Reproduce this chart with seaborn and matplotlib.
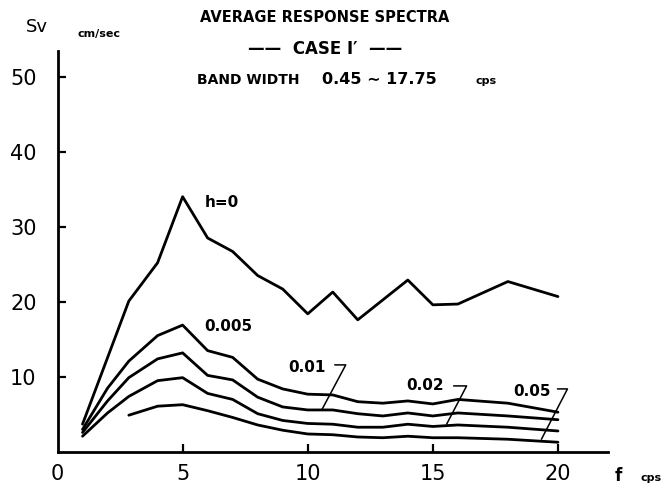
import numpy as np
import pandas as pd
import matplotlib
matplotlib.use("Agg")
import matplotlib.pyplot as plt
import seaborn as sns

# DATA
f_h0 = [1, 2.85, 4, 5, 6, 7, 8, 9, 10, 11, 12, 14, 15, 16, 18, 20]
sv_h0 = [3.7, 20.1, 25.2, 34.0, 28.5, 26.7, 23.5, 21.7, 18.4, 21.3, 17.6, 22.9, 19.6, 19.7, 22.7, 20.7]

f_low = [1, 2, 2.85, 4, 5, 6, 7, 8, 9, 10, 11, 12, 13, 14, 15, 16, 18, 20]
sv_h005 = [3.0, 8.5, 12.1, 15.5, 16.9, 13.5, 12.6, 9.7, 8.4, 7.7, 7.6, 6.7, 6.5, 6.8, 6.4, 7.0, 6.5, 5.3]
sv_h01 = [2.6, 6.8, 9.9, 12.4, 13.2, 10.2, 9.6, 7.3, 6.0, 5.6, 5.6, 5.1, 4.8, 5.2, 4.8, 5.2, 4.8, 4.3]
sv_h02 = [2.1, 5.2, 7.4, 9.5, 9.9, 7.8, 7.0, 5.1, 4.2, 3.8, 3.7, 3.3, 3.3, 3.7, 3.4, 3.6, 3.3, 2.8]

f_h05 = [2.85, 4, 5, 6, 7, 8, 9, 10, 11, 12, 13, 14, 15, 16, 18, 20]
sv_h05 = [4.9, 6.1, 6.3, 5.5, 4.6, 3.6, 2.9, 2.4, 2.3, 2.0, 1.9, 2.1, 1.9, 1.9, 1.7, 1.3]

curves = [("0", f_h0, sv_h0), ("0.005", f_low, sv_h005), ("0.01", f_low, sv_h01),
          ("0.02", f_low, sv_h02), ("0.05", f_h05, sv_h05)]
df = pd.concat([pd.DataFrame({"f": fx, "Sv": sv, "h": name}) for name, fx, sv in curves],
               ignore_index=True)

sns.set_style("white", {"xtick.bottom": True, "ytick.left": True,
                        "text.color": "black", "axes.labelcolor": "black",
                        "xtick.color": "black", "ytick.color": "black"})
plt.rcParams['font.family'] = ['DejaVu Sans']

W, H = 667, 491
fig = plt.figure(figsize=(W / 100, H / 100), dpi=100)
ax = fig.add_axes([57.5 / W, 1 - 452 / H, (608 - 57.5) / W, (452 - 51) / H])

sns.lineplot(data=df, x="f", y="Sv", hue="h", units="h", estimator=None, sort=False,
             palette={name: "black" for name, _, _ in curves}, linewidth=2.0,
             legend=False, ax=ax)

ax.set_xlim(0, 22)
ax.set_ylim(0, 53.4)
ax.set_xticks([0, 5, 10, 15, 20])
ax.set_xticklabels(["0", "5", "10", "15", "20"])
ax.set_yticks([10, 20, 30, 40, 50])
ax.tick_params(direction="in", length=6, width=1.6, labelsize=15, colors="black")
ax.tick_params(axis="y", pad=15)
ax.tick_params(axis="x", pad=9)
ax.xaxis.get_major_ticks()[0].tick1line.set_visible(False)
for s in ["top", "right"]:
    ax.spines[s].set_visible(False)
for s in ["left", "bottom"]:
    ax.spines[s].set_linewidth(2.0)
    ax.spines[s].set_color("black")
ax.set_xlabel("")
ax.set_ylabel("")

# curve labels and leaders
lab = dict(fontsize=11, fontweight="bold", ha="center", va="center", color="black")
ax.text(6.57, 33.2, "h=0", **lab)
ax.text(6.81, 16.7, "0.005", **lab)
ax.text(9.96, 11.2, "0.01", **lab)
ax.text(14.67, 8.8, "0.02", **lab)
ax.text(18.98, 8.1, "0.05", **lab)
leaders = [((11.08, 11.52), 11.6, (10.56, 5.6)),
           ((15.83, 16.35), 8.8, (15.55, 3.7)),
           ((19.98, 20.38), 8.4, (19.34, 1.7))]
for (x0, x1), yl, (xe, ye) in leaders:
    ax.plot([x0, x1, xe], [yl, yl, ye], color="black", lw=1.1)

# titles and axis labels
fig.text(325 / W, 1 - 17 / H, "AVERAGE RESPONSE SPECTRA", fontsize=10.5, fontweight="bold",
         ha="center", va="center")
fig.text(325 / W, 1 - 49 / H, "——  CASE I′  ——", fontsize=12, fontweight="bold",
         ha="center", va="center")
fig.text(197 / W, 1 - 80 / H, "BAND WIDTH", fontsize=10, fontweight="bold",
         ha="left", va="center")
fig.text(322 / W, 1 - 80 / H, "0.45 ∼ 17.75", fontsize=11.5, fontweight="bold",
         ha="left", va="center")
fig.text(476 / W, 1 - 81 / H, "cps", fontsize=8, fontweight="bold", ha="left", va="center")
fig.text(37 / W, 1 - 27 / H, "Sv", fontsize=13, ha="center", va="center")
fig.text(99 / W, 1 - 34 / H, "cm/sec", fontsize=8, fontweight="bold", ha="center", va="center")
fig.text(618 / W, 1 - 476 / H, "f", fontsize=12, fontweight="bold", ha="center", va="center")
fig.text(651 / W, 1 - 478 / H, "cps", fontsize=8, fontweight="bold", ha="center", va="center")

fig.savefig("out.png", dpi=100)
